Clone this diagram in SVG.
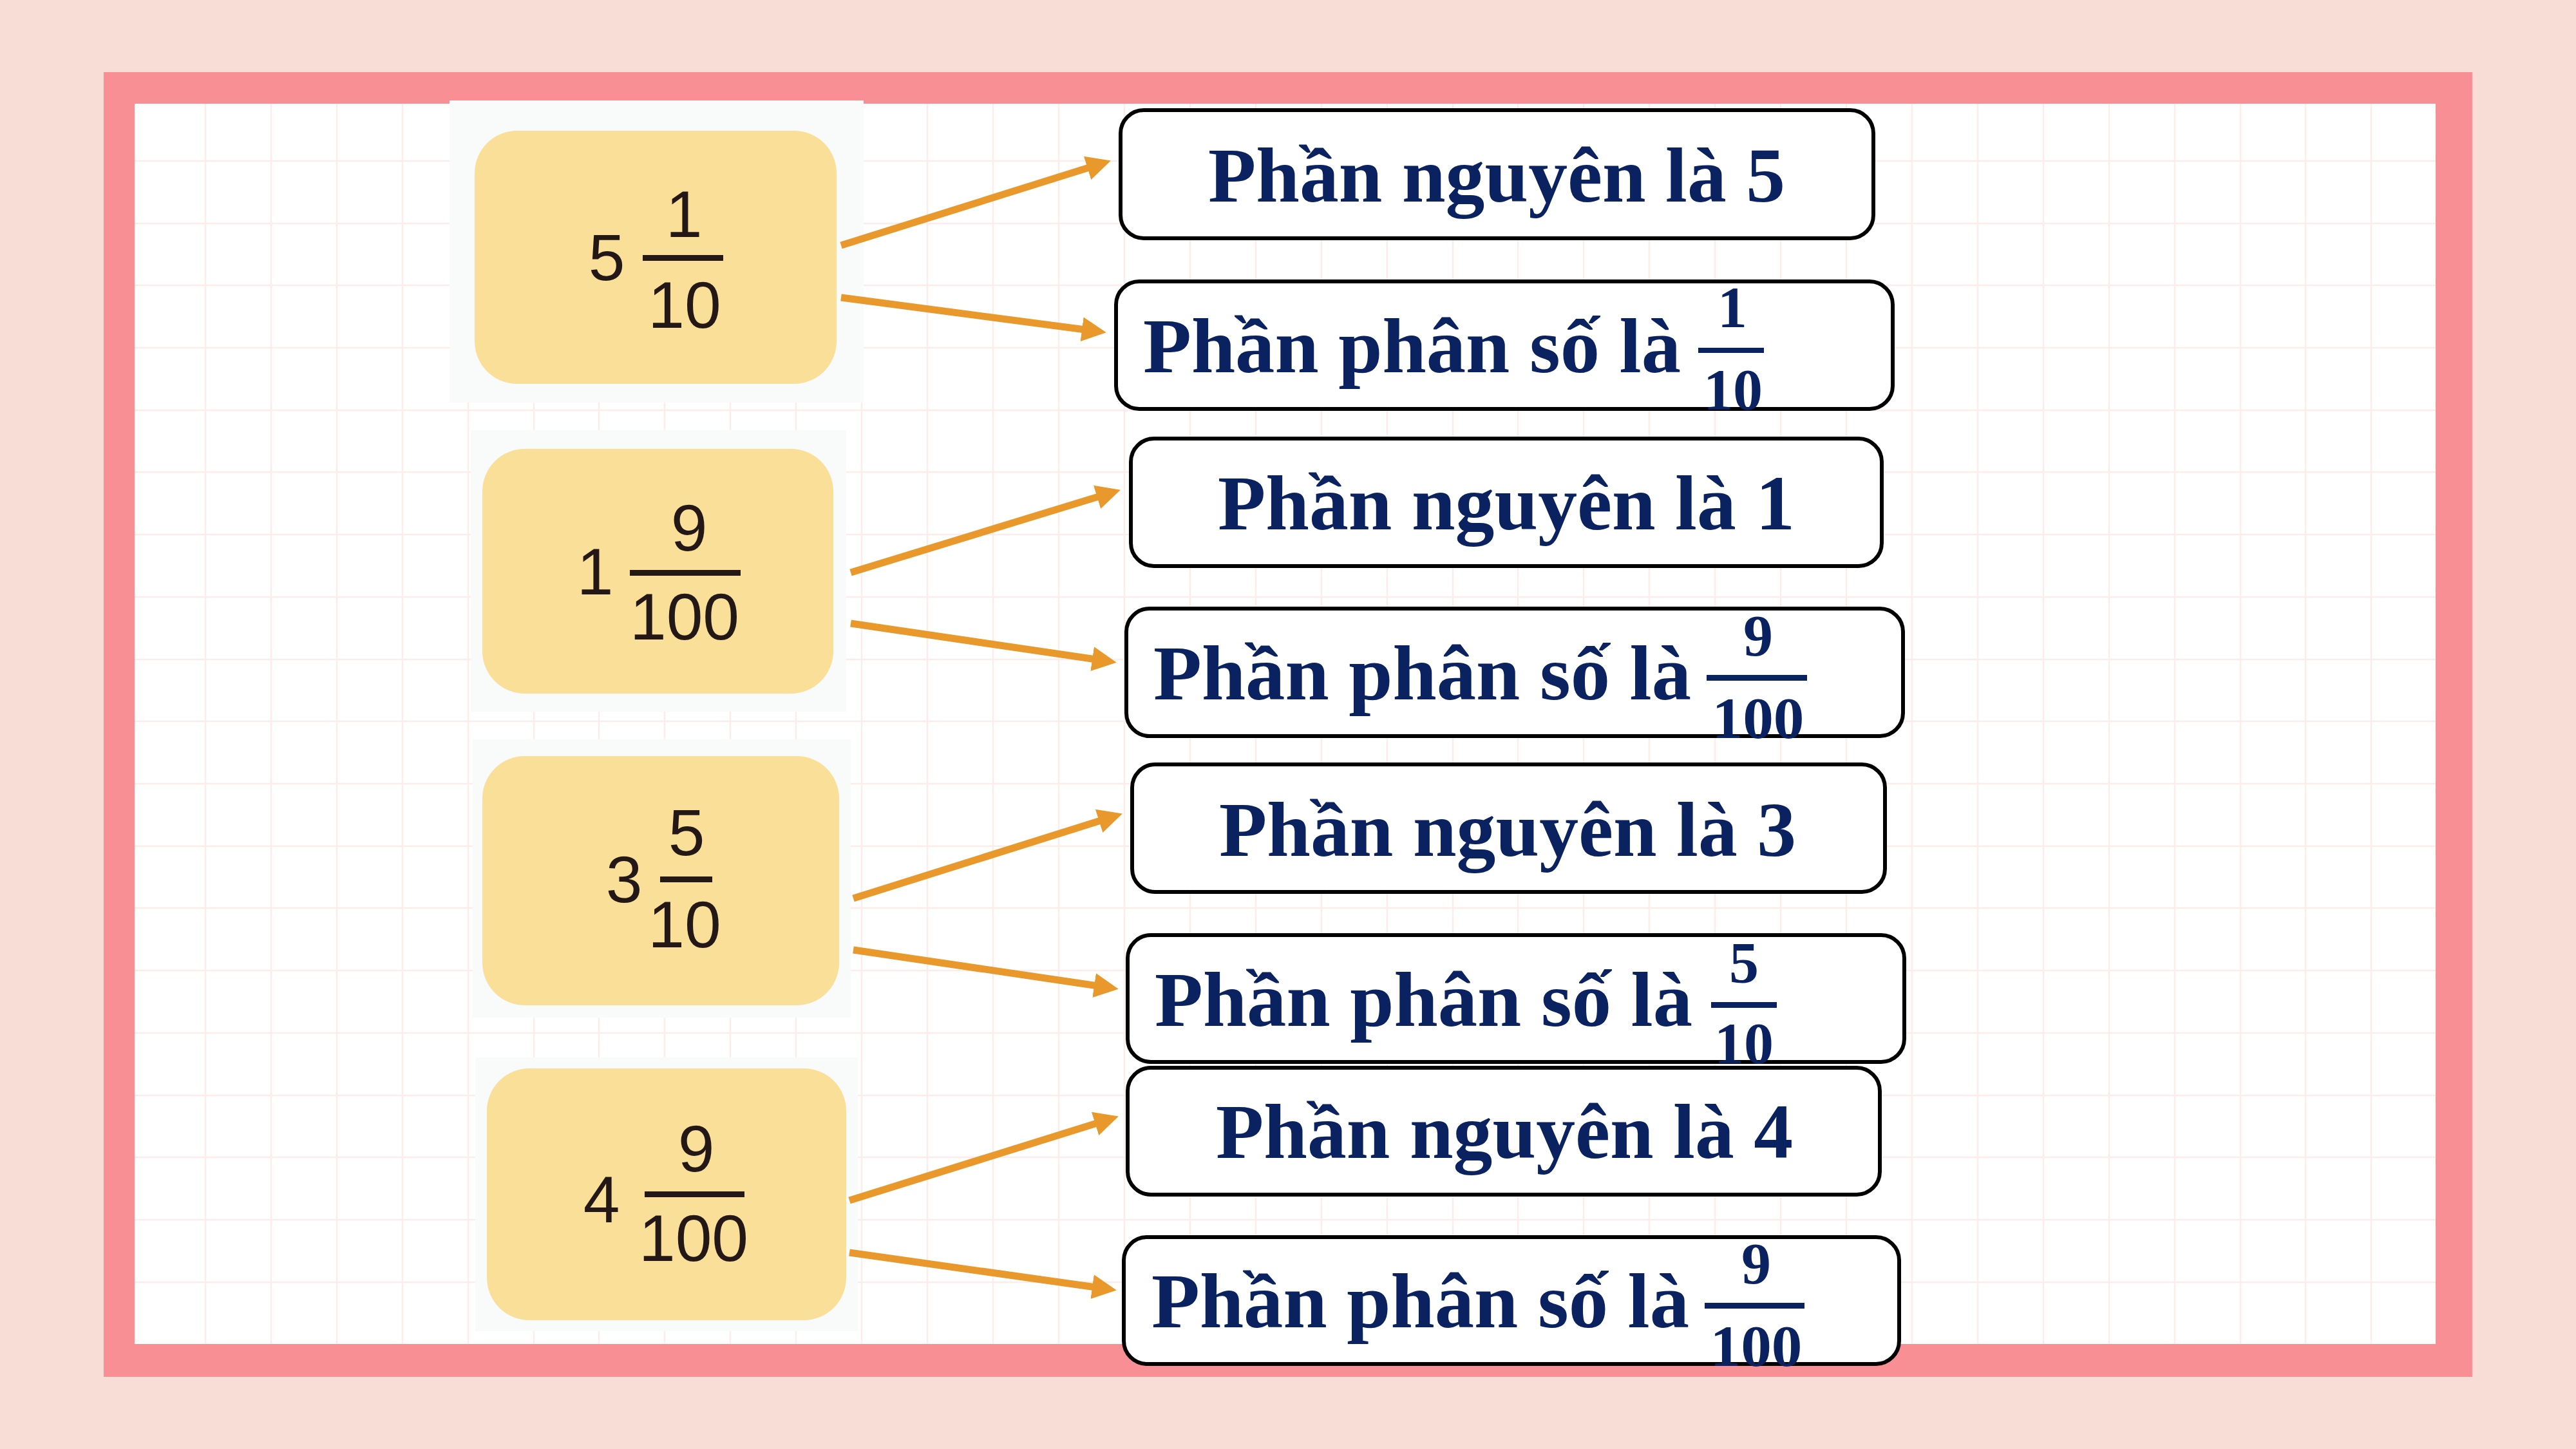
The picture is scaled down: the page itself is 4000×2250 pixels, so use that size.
<svg xmlns="http://www.w3.org/2000/svg" width="4000" height="2250" viewBox="0 0 4000 2250">
<defs>
<style>
.grid{stroke:#FCEDEA;stroke-width:2.5;fill:none}
.photo{fill:#F9FAFA}
.ybox{fill:#F9DF98}
.num{font-family:"Liberation Sans",Arial,sans-serif;font-size:102px;fill:#231815;text-anchor:middle}
.bar{fill:#231815}
.rbox{fill:#FFFFFF;stroke:#000000;stroke-width:6}
.lbl{font-family:"Liberation Serif","Times New Roman",serif;font-weight:bold;font-size:120px;fill:#0B2260}
.mid{text-anchor:middle}
.fr{font-family:"Liberation Serif","Times New Roman",serif;font-weight:bold;font-size:92px;fill:#0B2260;text-anchor:middle}
.fbar{fill:#0B2260}
.arr{stroke:#E9992B;stroke-width:11;fill:none;marker-end:url(#ah)}
</style>
<marker id="ah" markerUnits="userSpaceOnUse" markerWidth="38" markerHeight="38" refX="13" refY="19" orient="auto" viewBox="0 0 38 38">
<path d="M0,0 L38,19 L0,38 z" fill="#E9992B"/>
</marker>
</defs>

<g id="background">
<rect x="0" y="0" width="4000" height="2250" fill="#F8DCD6"/>
<rect x="161" y="112" width="3678" height="2026" fill="#F78F94"/>
<rect x="209" y="161" width="3573" height="1926" fill="#FFFFFF"/>
<path class="grid" d="M319,161V2087 M421,161V2087 M523,161V2087 M625,161V2087 M727,161V2087 M829,161V2087 M930,161V2087 M1032,161V2087 M1134,161V2087 M1236,161V2087 M1338,161V2087 M1440,161V2087 M1542,161V2087 M1644,161V2087 M1746,161V2087 M1848,161V2087 M1950,161V2087 M2052,161V2087 M2154,161V2087 M2256,161V2087 M2357,161V2087 M2459,161V2087 M2561,161V2087 M2663,161V2087 M2765,161V2087 M2867,161V2087 M2969,161V2087 M3071,161V2087 M3173,161V2087 M3275,161V2087 M3377,161V2087 M3479,161V2087 M3580,161V2087 M3682,161V2087 M209,250H3782 M209,347H3782 M209,443H3782 M209,540H3782 M209,637H3782 M209,733H3782 M209,830H3782 M209,927H3782 M209,1024H3782 M209,1120H3782 M209,1217H3782 M209,1314H3782 M209,1410H3782 M209,1507H3782 M209,1604H3782 M209,1701H3782 M209,1797H3782 M209,1894H3782 M209,1991H3782"/>
</g>

<g id="mixed-5-1-10">
<rect class="photo" x="698" y="156" width="643" height="469"/>
<rect class="ybox" x="737" y="203" width="562" height="393" rx="66" ry="66"/>
<text class="num" x="942" y="435">5</text>
<text class="num" x="1062" y="368">1</text>
<rect class="bar" x="998" y="396" width="125" height="9"/>
<text class="num" x="1063" y="509">10</text>
</g>

<g id="mixed-1-9-100">
<rect class="photo" x="731" y="668" width="583" height="437"/>
<rect class="ybox" x="749" y="697" width="545" height="380" rx="66" ry="66"/>
<text class="num" x="924" y="923">1</text>
<text class="num" x="1070" y="855">9</text>
<rect class="bar" x="978" y="885" width="172" height="9"/>
<text class="num" x="1063" y="993">100</text>
</g>

<g id="mixed-3-5-10">
<rect class="photo" x="734" y="1148" width="587" height="432"/>
<rect class="ybox" x="749" y="1174" width="554" height="387" rx="66" ry="66"/>
<text class="num" x="969" y="1401">3</text>
<text class="num" x="1066" y="1328">5</text>
<rect class="bar" x="1025" y="1361" width="81" height="9"/>
<text class="num" x="1063" y="1471">10</text>
</g>

<g id="mixed-4-9-100">
<rect class="photo" x="738" y="1642" width="594" height="425"/>
<rect class="ybox" x="756" y="1659" width="558" height="391" rx="66" ry="66"/>
<text class="num" x="934" y="1898">4</text>
<text class="num" x="1081" y="1819">9</text>
<rect class="bar" x="1001" y="1850" width="155" height="9"/>
<text class="num" x="1077" y="1958">100</text>
</g>

<g id="connectors">
<path class="arr" d="M1306,381 L1701,257"/>
<path class="arr" d="M1306,462 L1693,513"/>
<path class="arr" d="M1321,889 L1716,768"/>
<path class="arr" d="M1321,968 L1709,1025"/>
<path class="arr" d="M1325,1395 L1719,1271"/>
<path class="arr" d="M1325,1475 L1712,1532"/>
<path class="arr" d="M1319,1864 L1713,1741"/>
<path class="arr" d="M1319,1945 L1709,2000"/>
</g>

<g id="integer-5">
<rect class="rbox" x="1740" y="171" width="1169" height="199" rx="36" ry="36"/>
<text class="lbl mid" x="2324" y="313" textLength="896" lengthAdjust="spacingAndGlyphs">Phần nguyên là 5</text>
</g>

<g id="fraction-1-10">
<rect class="rbox" x="1733" y="437" width="1206" height="198" rx="36" ry="36"/>
<text class="lbl" x="1775" y="578" textLength="835" lengthAdjust="spacingAndGlyphs">Phần phân số là</text>
<text class="fr" x="2690" y="508">1</text>
<rect class="fbar" x="2637" y="540" width="102" height="8"/>
<text class="fr" x="2691" y="636" textLength="92" lengthAdjust="spacingAndGlyphs">10</text>
</g>

<g id="integer-1">
<rect class="rbox" x="1756" y="681" width="1166" height="198" rx="36" ry="36"/>
<text class="lbl mid" x="2339" y="822" textLength="896" lengthAdjust="spacingAndGlyphs">Phần nguyên là 1</text>
</g>

<g id="fraction-9-100-a">
<rect class="rbox" x="1749" y="945" width="1206" height="198" rx="36" ry="36"/>
<text class="lbl" x="1791" y="1086" textLength="835" lengthAdjust="spacingAndGlyphs">Phần phân số là</text>
<text class="fr" x="2730" y="1018">9</text>
<rect class="fbar" x="2650" y="1048" width="156" height="9"/>
<text class="fr" x="2730" y="1146" textLength="143" lengthAdjust="spacingAndGlyphs">100</text>
</g>

<g id="integer-3">
<rect class="rbox" x="1758" y="1187" width="1169" height="198" rx="36" ry="36"/>
<text class="lbl mid" x="2341" y="1329" textLength="896" lengthAdjust="spacingAndGlyphs">Phần nguyên là 3</text>
</g>

<g id="fraction-5-10">
<rect class="rbox" x="1751" y="1452" width="1206" height="197" rx="36" ry="36"/>
<text class="lbl" x="1793" y="1593" textLength="835" lengthAdjust="spacingAndGlyphs">Phần phân số là</text>
<text class="fr" x="2708" y="1526">5</text>
<rect class="fbar" x="2657" y="1556" width="102" height="9"/>
<text class="fr" x="2708" y="1651" textLength="92" lengthAdjust="spacingAndGlyphs">10</text>
</g>

<g id="integer-4">
<rect class="rbox" x="1751" y="1658" width="1168" height="197" rx="36" ry="36"/>
<text class="lbl mid" x="2336" y="1798" textLength="896" lengthAdjust="spacingAndGlyphs">Phần nguyên là 4</text>
</g>

<g id="fraction-9-100-b">
<rect class="rbox" x="1745" y="1921" width="1204" height="197" rx="36" ry="36"/>
<text class="lbl" x="1788" y="2061" textLength="835" lengthAdjust="spacingAndGlyphs">Phần phân số là</text>
<text class="fr" x="2727" y="1993">9</text>
<rect class="fbar" x="2647" y="2023" width="155" height="9"/>
<text class="fr" x="2727" y="2121" textLength="143" lengthAdjust="spacingAndGlyphs">100</text>
</g>
</svg>
